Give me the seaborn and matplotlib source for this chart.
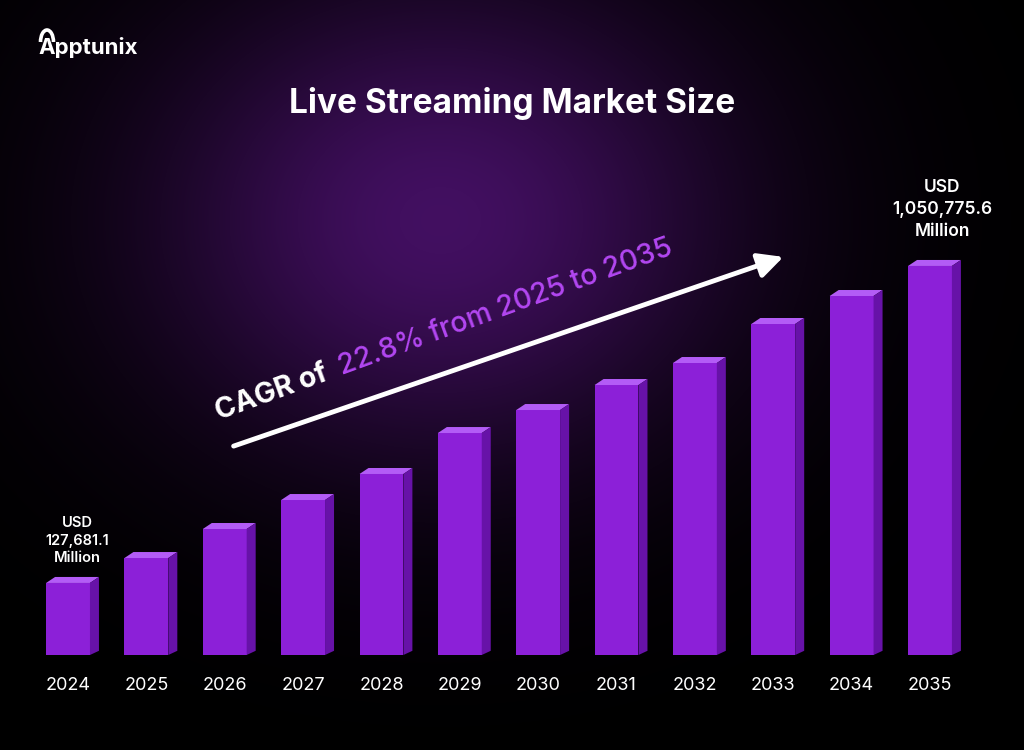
import numpy as np
import matplotlib
matplotlib.use("Agg")
import matplotlib.pyplot as plt
import seaborn as sns
from matplotlib.patches import Polygon, Arc

# data (USD million); in-between years
years = ["2024", "2025", "2026", "2027", "2028", "2029",
         "2030", "2031", "2032", "2033", "2034", "2035"]
market_size = [127681.1, 200300, 284800, 369200, 445000, 564300,
               631300, 704100, 768200, 881800, 963300, 1050775.6]
first_label = "USD\n127,681.1\nMillion"
last_label = "USD\n1,050,775.6\nMillion"
cagr_lead = "CAGR of"
cagr_rate = "22.8% from 2025 to 2035"
title = "Live Streaming Market Size"
brand = "Apptunix"

front = "#8c20d8"
top_face = "#b35cf6"
side_face = "#6712a8"
accent = "#b347f2"

sns.set_theme(style="white")
plt.rcParams["font.family"] = ["Inter", "DejaVu Sans"]

W, H = 1024, 750
fig = plt.figure(figsize=(10.24, 7.5), dpi=100)
fig.patch.set_facecolor("black")

# background with a purple glow, pixel coordinates (y down)
bg = fig.add_axes([0, 0, 1, 1])
yy, xx = np.mgrid[0:H, 0:W]
r2 = ((xx - 440) / 330.0) ** 2 + ((yy - 220) / 270.0) ** 2
glow = np.exp(-1.3 * r2)
rgb = np.array([0.26, 0.06, 0.38])[None, None, :] * glow[..., None]
bg.imshow(rgb, extent=(0, W, H, 0), aspect="auto", interpolation="bilinear")
bg.set_xlim(0, W)
bg.set_ylim(H, 0)
bg.axis("off")

# bars
base_px, top_px = 655, 90
ax = fig.add_axes([0, (H - base_px) / H, 1, (base_px - top_px) / H])
ax.set_facecolor("none")
sns.barplot(x=years, y=market_size, color=front, saturation=1, width=0.56,
            ax=ax, zorder=3)

floor = -82100
y_range = (base_px - top_px) / 3.434e-4
xlim = (-0.868, 12.2)
ax.set_xlim(*xlim)
ax.set_ylim(floor, floor + y_range)

px_x = W / (xlim[1] - xlim[0])
px_y = (base_px - top_px) / y_range
dx, dy = 9 / px_x, 6 / px_y

for p, v in zip(ax.patches, market_size):
    p.set_y(floor)
    p.set_height(v - floor)
    p.set_linewidth(0)
    x0, w = p.get_x(), p.get_width()
    x1 = x0 + w
    ax.add_patch(Polygon([(x0, v), (x1, v), (x1 + dx, v + dy), (x0 + dx, v + dy)],
                         closed=True, facecolor=top_face, lw=0, zorder=3))
    ax.add_patch(Polygon([(x1, floor), (x1, v), (x1 + dx, v + dy), (x1 + dx, floor + dy * 0.7)],
                         closed=True, facecolor=side_face, lw=0, zorder=3))

ax.set_yticks([])
ax.set_xlabel("")
ax.set_ylabel("")
ax.tick_params(axis="x", colors="white", labelsize=13, length=0, pad=16)
sns.despine(ax=ax, left=True, bottom=True)

# end labels
ax.annotate(first_label, xy=(0, market_size[0]), xytext=(7, 13),
            textcoords="offset points", ha="center", va="bottom",
            color="white", fontsize=10.5, weight="semibold", linespacing=1.3)
ax.annotate(last_label, xy=(11, market_size[-1]), xytext=(9, 19),
            textcoords="offset points", ha="center", va="bottom",
            color="white", fontsize=12.5, weight="semibold", linespacing=1.35)

# title and logo
bg.text(512, 104, title, ha="center", va="center", color="white",
        fontsize=24, weight="bold")
bg.text(38, 48, brand, ha="left", va="center", color="white",
        fontsize=16, weight="bold")
bg.add_patch(Arc((47, 42), 13, 24, theta1=180, theta2=360, color="white", lw=2.6))

# CAGR arrow and rotated text
bg.annotate("", xy=(786, 256), xytext=(231, 447),
            arrowprops=dict(arrowstyle="-|>,head_length=1.0,head_width=0.5",
                            color="white", lw=3.5, mutation_scale=15))
ang = 20
sx, sy = 219, 420
fs = 20.5
t0 = bg.text(sx, sy, cagr_lead, rotation=ang, rotation_mode="anchor",
             ha="left", va="baseline", color="white", fontsize=fs, weight="bold")
probe = bg.text(0, 0, cagr_lead, fontsize=fs, weight="bold")
fig.canvas.draw()
wpx = probe.get_window_extent().width
probe.remove()
gap = wpx + 13
bg.text(sx + gap * np.cos(np.radians(ang)), sy - gap * np.sin(np.radians(ang)),
        cagr_rate, rotation=ang, rotation_mode="anchor", ha="left",
        va="baseline", color=accent, fontsize=fs, weight="medium")

fig.savefig("out.png", dpi=100, facecolor="black")
